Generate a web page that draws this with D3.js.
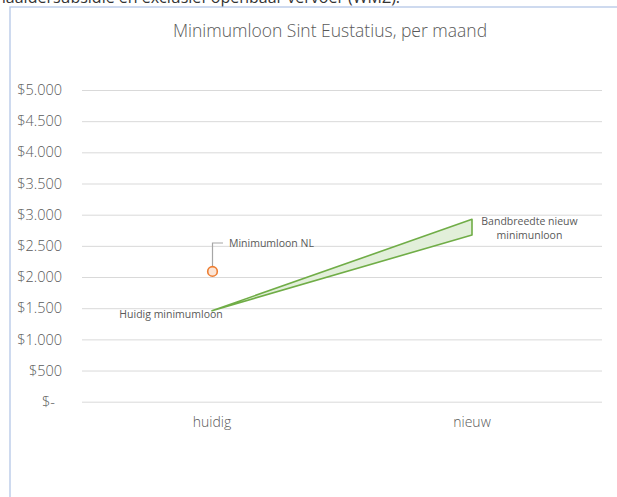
<!DOCTYPE html>
<html><head><meta charset="utf-8">
<script src="https://cdn.jsdelivr.net/npm/d3@7"></script>
<style>body{margin:0;background:#fff;font-family:"Open Sans",sans-serif}</style>
</head><body>
<svg id="c" width="617" height="497"></svg>
<script>
const categories = ["huidig", "nieuw"];
const currentWage = 1460;          // huidig minimumloon
const newWageHigh = 2925;          // bandbreedte bovengrens
const newWageLow = 2675;           // bandbreedte ondergrens
const nlWage = 2090;               // minimumloon NL
const yTicks = [0, 500, 1000, 1500, 2000, 2500, 3000, 3500, 4000, 4500, 5000];
const title = "Minimumloon Sint Eustatius, per maand";

const svg = d3.select("#c");
const gray = "#595959";

// cut-off text of surrounding document
svg.append("text").attr("x", -4).attr("y", 3).attr("font-size", 16).attr("fill", "#333")
  .text("naaldersubsidie en exclusief openbaar vervoer (WMZ).");

// chart frame
svg.append("rect").attr("x", 10).attr("y", 7).attr("width", 700).attr("height", 600)
  .attr("fill", "#fff").attr("stroke", "#B4C7E7").attr("stroke-width", 1.3);

const x = d3.scaleBand().domain(categories).range([82, 602]);
const y = d3.scaleLinear().domain([0, 5000]).range([401.7, 90]);

const fmt = d => d === 0 ? "$-" : "$" + d3.format(",")(d).replace(/,/g, ".");

const ya = svg.append("g").attr("transform", "translate(82,0)")
  .call(d3.axisLeft(y).tickValues(yTicks).tickFormat(fmt).tickSize(-520).tickPadding(20));
ya.select(".domain").remove();
ya.selectAll(".tick line").attr("stroke", "#D9D9D9").attr("stroke-width", 1);
ya.selectAll(".tick text").attr("fill", gray).attr("font-size", 14.5).attr("font-weight", 300)
  .attr("font-family", "'Open Sans',sans-serif")
  .attr("dx", d => d === 0 ? -7 : 0);

const xa = svg.append("g").attr("transform", "translate(0,401.7)")
  .call(d3.axisBottom(x).tickSize(0).tickPadding(15));
xa.select(".domain").remove();
xa.selectAll(".tick text").attr("fill", gray).attr("font-size", 14).attr("font-weight", 300)
  .attr("font-family", "'Open Sans',sans-serif");

// title
svg.append("text").attr("x", 330).attr("y", 37).attr("text-anchor", "middle")
  .attr("fill", gray).attr("font-size", 17.5).attr("font-weight", 300).text(title);

// band polygon
const cx0 = x("huidig") + x.bandwidth() / 2, cx1 = x("nieuw") + x.bandwidth() / 2;
const pts = [[cx0, y(currentWage)], [cx1, y(newWageHigh)], [cx1, y(newWageLow)]];
svg.append("path").attr("d", d3.line()(pts) + "Z")
  .attr("fill", "#E2EFDA").attr("stroke", "#70AD47").attr("stroke-width", 1.6)
  .attr("stroke-linejoin", "round");

// NL point
const py = y(nlWage);
svg.append("path").attr("d", `M${cx0 + 0.5},${py - 5} V243 H${cx0 + 11}`)
  .attr("fill", "none").attr("stroke", "#A6A6A6").attr("stroke-width", 1.2);
svg.append("circle").attr("cx", cx0 + 0.5).attr("cy", py).attr("r", 4.8)
  .attr("fill", "#FBE5D6").attr("stroke", "#ED7D31").attr("stroke-width", 1.6);

const lab = (t, xx, yy, anchor) => svg.append("text").attr("x", xx).attr("y", yy)
  .attr("text-anchor", anchor).attr("fill", gray).attr("font-size", 10.5).text(t);
lab("Minimumloon NL", cx0 + 17, 247, "start");
lab("Huidig minimumloon", 171, 318, "middle");
lab("Bandbreedte nieuw", 529.5, 224.5, "middle");
lab("minimunloon", 529.5, 239, "middle");
</script>
</body></html>
